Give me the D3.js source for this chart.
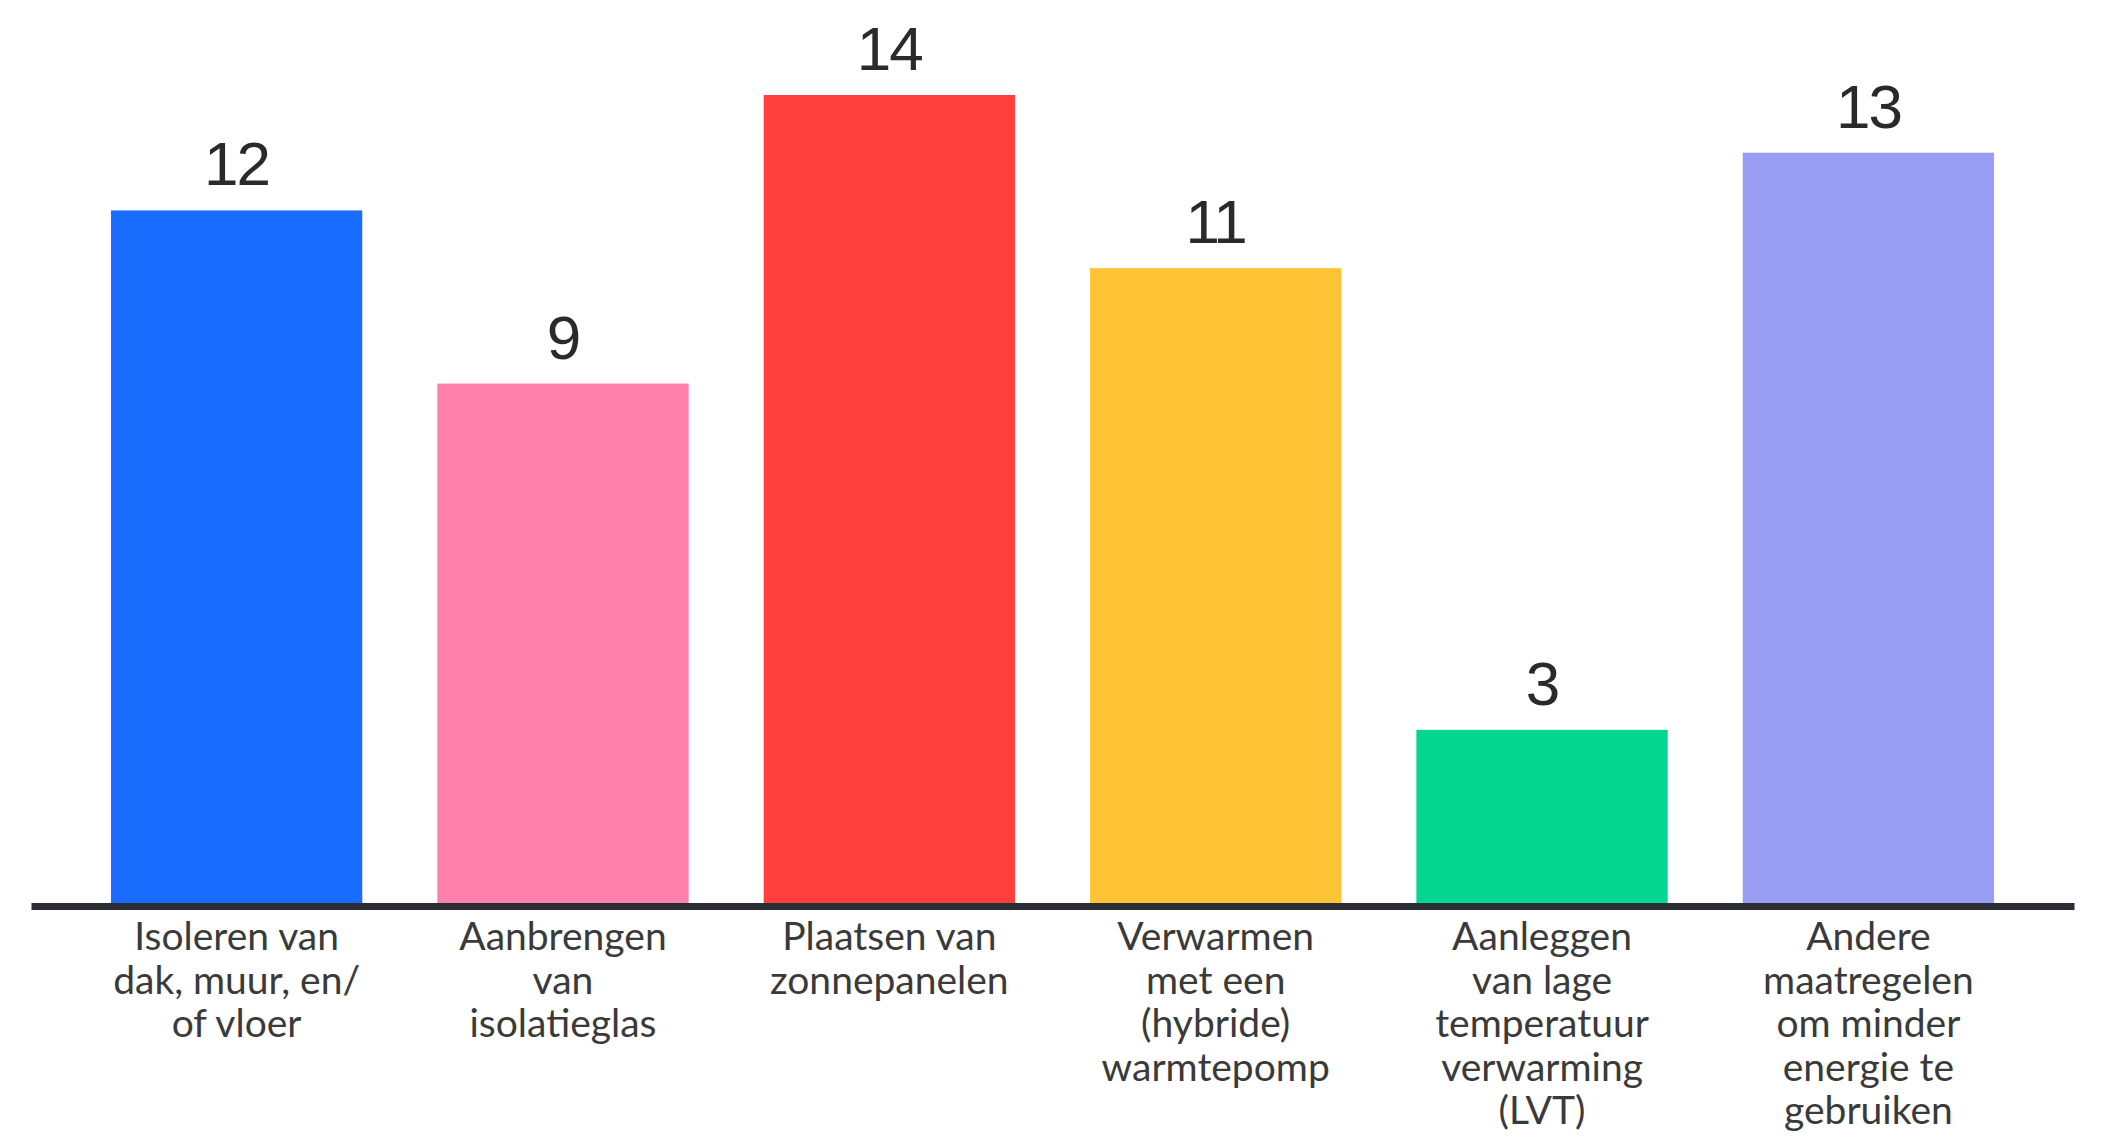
<!DOCTYPE html>
<html>
<head>
<meta charset="utf-8">
<script src="https://cdn.jsdelivr.net/npm/d3@7"></script>
<style>
  html, body { margin: 0; padding: 0; background: #fff; }
  svg { display: block; }
</style>
</head>
<body>
<svg id="chart" width="2102" height="1138"></svg>
<script>
// categories (each one split into its printed lines)
const categories = [
    "Isoleren van dak, muur, en/ of vloer",
    "Aanbrengen van isolatieglas",
    "Plaatsen van zonnepanelen",
    "Verwarmen met een (hybride) warmtepomp",
    "Aanleggen van lage temperatuur verwarming (LVT)",
    "Andere maatregelen om minder energie te gebruiken"
]
const labelLines = [
    ["Isoleren van", "dak, muur, en/", "of vloer"],
    ["Aanbrengen", "van", "isolatieglas"],
    ["Plaatsen van", "zonnepanelen"],
    ["Verwarmen", "met een", "(hybride)", "warmtepomp"],
    ["Aanleggen", "van lage", "temperatuur", "verwarming", "(LVT)"],
    ["Andere", "maatregelen", "om minder", "energie te", "gebruiken"]
]
const values = [12, 9, 14, 11, 3, 13]
const barColors = ["#1a6bff", "#ff80ab", "#ff3e3e", "#ffc436", "#03d68e", "#989cf3"]

const svg = d3.select("#chart")

const baseY = 903

let x = d3.scaleBand()
    .domain(categories)
    .range([31, 2074])
    .paddingInner(0.23)
    .paddingOuter(0.245)

let y = d3.scaleLinear()
    .domain([0, 14])
    .range([baseY, 95])

let color = d3.scaleOrdinal().domain(categories).range(barColors)

const data = categories.map((c, i) => ({ cat: c, value: values[i], lines: labelLines[i] }))

// bars
svg.append("g")
    .selectAll("rect")
    .data(data)
    .enter()
    .append("rect")
    .attr("x", d => x(d.cat))
    .attr("y", d => y(d.value))
    .attr("width", x.bandwidth())
    .attr("height", d => y(0) - y(d.value))
    .style("fill", d => color(d.cat))

// value labels
svg.append("g")
    .selectAll("text")
    .data(data)
    .enter()
    .append("text")
    .attr("x", d => x(d.cat) + x.bandwidth() / 2)
    .attr("y", d => y(d.value) - 25)
    .attr("text-anchor", "middle")
    .style("font-family", "'Liberation Sans', Arial, sans-serif")
    .style("font-size", "62px")
    .style("letter-spacing", "-2px")
    .style("fill", "#2a2a2a")
    .text(d => d.value)

// x axis: just the thick base line and the labels
const xAxis = d3.axisBottom(x).tickSize(0).tickFormat("")
const axisG = svg.append("g")
    .attr("transform", `translate(0,${baseY + 3})`)
    .call(xAxis)
axisG.select(".domain")
    .style("stroke", "#2a2d33")
    .style("stroke-width", 7)

const labelG = svg.append("g")
    .selectAll("text")
    .data(data)
    .enter()
    .append("text")
    .attr("text-anchor", "middle")
    .attr("transform", d => `translate(${x(d.cat) + x.bandwidth() / 2},950)`)
    .style("font-family", "Lato, 'Noto Sans', sans-serif")
    .style("font-size", "39px")
    .style("fill", "#3a3a3a")

labelG.selectAll("tspan")
    .data(d => d.lines)
    .enter()
    .append("tspan")
    .attr("x", 0)
    .attr("y", (d, i) => i * 43.5)
    .text(d => d)
</script>
</body>
</html>
